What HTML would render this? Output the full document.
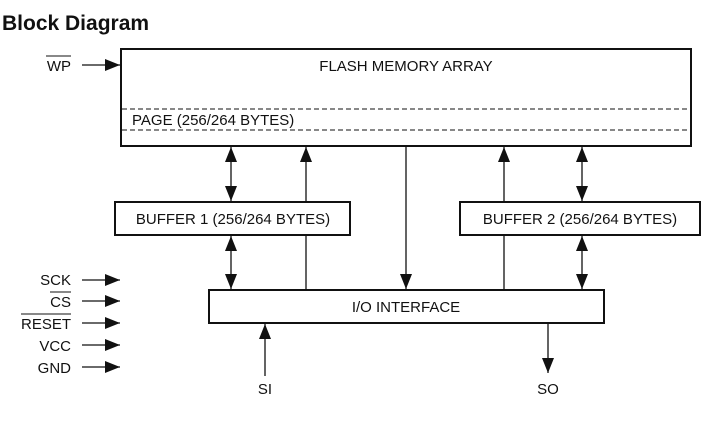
<!DOCTYPE html>
<html><head><style>
body{margin:0;background:#fff;}
svg{display:block;}
text{font-family:"Liberation Sans",Arial,sans-serif;fill:#111;}
</style></head><body>
<svg width="721" height="428" viewBox="0 0 721 428" xmlns="http://www.w3.org/2000/svg">
<defs>
<marker id="a" markerWidth="15" markerHeight="12" refX="15" refY="6" orient="auto-start-reverse" markerUnits="userSpaceOnUse">
<path d="M0,0 L15,6 L0,12 Z" fill="#111"/>
</marker>
</defs>
<text x="2" y="30" font-size="21" font-weight="bold">Block Diagram</text>
<g fill="none" stroke="#111" stroke-width="2">
<rect x="121" y="49" width="570" height="97"/>
<rect x="115" y="202" width="235" height="33"/>
<rect x="460" y="202" width="240" height="33"/>
<rect x="209" y="290" width="395" height="33"/>
</g>
<g stroke="#111" stroke-width="1" stroke-dasharray="5,3">
<line x1="122" y1="109" x2="690" y2="109"/>
<line x1="122" y1="130" x2="690" y2="130"/>
</g>
<g stroke="#111" stroke-width="1.3" fill="none">
<line x1="82" y1="65" x2="120" y2="65" marker-end="url(#a)"/>
<line x1="82" y1="280" x2="120" y2="280" marker-end="url(#a)"/>
<line x1="82" y1="301" x2="120" y2="301" marker-end="url(#a)"/>
<line x1="82" y1="323" x2="120" y2="323" marker-end="url(#a)"/>
<line x1="82" y1="345" x2="120" y2="345" marker-end="url(#a)"/>
<line x1="82" y1="367" x2="120" y2="367" marker-end="url(#a)"/>
<line x1="231" y1="147" x2="231" y2="201" marker-start="url(#a)" marker-end="url(#a)"/>
<line x1="306" y1="202" x2="306" y2="147" marker-end="url(#a)"/>
<line x1="231" y1="236" x2="231" y2="289" marker-start="url(#a)" marker-end="url(#a)"/>
<line x1="306" y1="235" x2="306" y2="290"/>
<line x1="406" y1="146" x2="406" y2="289" marker-end="url(#a)"/>
<line x1="504" y1="202" x2="504" y2="147" marker-end="url(#a)"/>
<line x1="504" y1="235" x2="504" y2="290"/>
<line x1="582" y1="147" x2="582" y2="201" marker-start="url(#a)" marker-end="url(#a)"/>
<line x1="582" y1="236" x2="582" y2="289" marker-start="url(#a)" marker-end="url(#a)"/>
<line x1="265" y1="376" x2="265" y2="324" marker-end="url(#a)"/>
<line x1="548" y1="323" x2="548" y2="373" marker-end="url(#a)"/>
</g>
<g font-size="15">
<text x="406" y="71" text-anchor="middle">FLASH MEMORY ARRAY</text>
<text x="132" y="125">PAGE (256/264 BYTES)</text>
<text x="233" y="224" text-anchor="middle">BUFFER 1 (256/264 BYTES)</text>
<text x="580" y="224" text-anchor="middle">BUFFER 2 (256/264 BYTES)</text>
<text x="406" y="312" text-anchor="middle">I/O INTERFACE</text>
<text x="265" y="394" text-anchor="middle">SI</text>
<text x="548" y="394" text-anchor="middle">SO</text>
<g text-anchor="end">
<text x="71" y="71">WP</text>
<text x="71" y="285">SCK</text>
<text x="71" y="307">CS</text>
<text x="71" y="329">RESET</text>
<text x="71" y="351">VCC</text>
<text x="71" y="373">GND</text>
</g>
</g>
<g stroke="#111" stroke-width="1">
<line x1="46" y1="56" x2="71" y2="56"/>
<line x1="50" y1="292" x2="71" y2="292"/>
<line x1="21" y1="314" x2="71" y2="314"/>
</g>
</svg>
</body></html>
